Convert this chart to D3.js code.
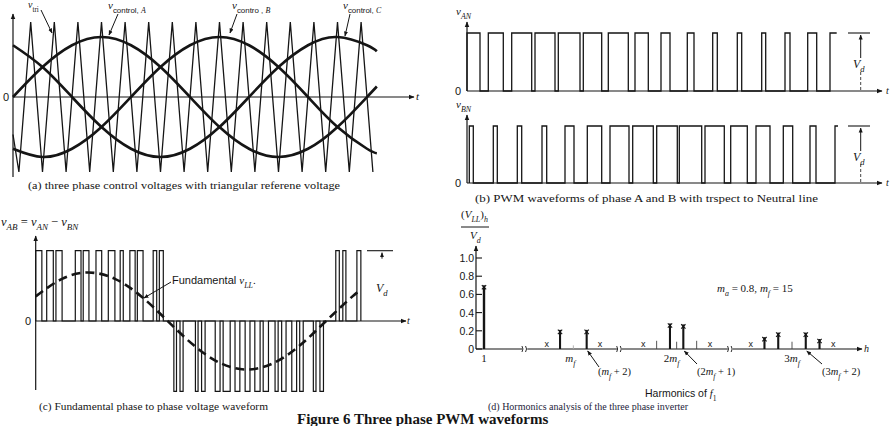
<!DOCTYPE html>
<meta charset="utf-8">
<script src="https://d3js.org/d3.v7.min.js"></script>
<style>body{margin:0;background:#fff}</style>
<div id="my_dataviz"></div>
<script>

// ---- data (time in electrical degrees of the fundamental) ----

// (a) control voltages, sampled every 30 deg (ma = 0.8)
var ctrlTimes = [0,30,60,90,120,150,180,210,240,270,300,330,360,370];
var ctrlA = [0,0.40,0.69,0.80,0.69,0.40,0,-0.40,-0.69,-0.80,-0.69,-0.40,0,0.14];
var ctrlB = [-0.69,-0.80,-0.69,-0.40,0,0.40,0.69,0.80,0.69,0.40,0,-0.40,-0.69,-0.75];
var ctrlC = [0.69,0.40,0,-0.40,-0.69,-0.80,-0.69,-0.40,0,0.40,0.69,0.80,0.69,0.61];

// triangular carrier vertices (mf = 15)
var triTimes = [0,6,18,30,42,54,66,78,90,102,114,126,138,150,162,174,186,198,210,222,234,246,258,270,282,294,306,318,330,342,354,366];
var triVals  = [-0.5,-1,1,-1,1,-1,1,-1,1,-1,1,-1,1,-1,1,-1,1,-1,1,-1,1,-1,1,-1,1,-1,1,-1,1,-1,1,-1];

// (b) on-intervals of vAN and vBN
var pulsesAN = [[0,13],[21.3,36.3],[44.7,64.7],[68,88],[91.3,113],[116.3,134.7],[141.3,161.3],[168,181.3],[194,203],[220.3,227],[245.7,250.3],[270.3,274.7],[294.7,298.7],[318,323],[340.7,349.7],[363,369.7]];
var pulsesBN = [[2.3,6.3],[26.3,30.3],[50.3,54.7],[75,79.7],[98,107],[120.3,134.7],[143,162],[165.7,186.3],[189.7,210.3],[212.3,234.7],[238,257.3],[263.7,280.3],[289,303],[316.3,325.7],[343,349],[368,371]];
var endAN = 369.7, endBN = 371;

// (c) vAB pulses (+Vd and -Vd) and fundamental vLL
var pulsesPos = [[0,7],[12.5,20],[23,30],[45,51.5],[54,60.5],[68.5,75],[82.5,90],[96,99.5],[107,113],[115.5,122],[133.5,137.5],[140.5,145],[341,345],[349,352.5],[365,369.5]];
var pulsesNeg = [[157,160],[164,167.5],[181.5,184.5],[188.5,192.5],[204,209.5],[213,221],[226.5,232],[238,243.5],[249,255],[258.5,264.5],[272,275.5],[279.5,284.5],[291,296.5],[300,304],[315.5,318.5],[323,327]];
var vllFund = [0.35,0.60,0.69,0.60,0.35,0,-0.35,-0.60,-0.69,-0.60,-0.35,0,0.35,0.44];

// (d) harmonic spectrum (VLL)h / Vd
var harmOrders = [1,13,17,29,31,41,43,47,49];
var harmValues = [0.70,0.21,0.21,0.28,0.27,0.13,0.18,0.18,0.11];
var tripOrders = [15,27,30,33,45];
var tripValues = [0.04,0.09,0.08,0.09,0.08];
var crossOrders = [11,19,25,35,39,51];
var breakOrders = [7.5,21.7,37];
var yTickValues = [0,0.2,0.4,0.6,0.8,1.0];
var yTickLabels = ["0","0.2","0.4","0.6","0.8","1.0"];

// ---- drawing ----
var svg = d3.select("#my_dataviz").append("svg")
    .attr("width", 894).attr("height", 426)
    .style("background", "#fff");

var ink = "#151515";
var serif = "Liberation Serif", sans = "Liberation Sans";

svg.append("defs").append("marker")
    .attr("id", "arr").attr("viewBox", "0 0 10 10")
    .attr("refX", 9).attr("refY", 5)
    .attr("markerWidth", 5).attr("markerHeight", 5)
    .attr("orient", "auto")
  .append("path").attr("d", "M0,1L10,5L0,9z").attr("fill", ink);

function line(x1, y1, x2, y2, w, arrow) {
  var l = svg.append("line").attr("x1", x1).attr("y1", y1).attr("x2", x2).attr("y2", y2)
      .attr("stroke", ink).attr("stroke-width", w || 1.2);
  if (arrow) l.attr("marker-end", "url(#arr)");
  return l;
}

// rich text: parts = [text, flags] flags: i italic, s subscript, n sans
function rich(x, y, parts, size, family, anchor) {
  var t = svg.append("text").attr("x", x).attr("y", y)
      .style("font-family", family || serif).style("font-size", size + "px")
      .attr("fill", ink).attr("text-anchor", anchor || "start");
  var cur = 0;
  parts.forEach(function(p) {
    var f = p[1] || "";
    var sub = f.indexOf("s") >= 0;
    var target = sub ? size * 0.35 : 0;
    var s = t.append("tspan").text(p[0]).attr("dy", target - cur);
    cur = target;
    if (sub) s.style("font-size", (size * 0.72) + "px");
    if (f.indexOf("i") >= 0) s.style("font-style", "italic");
    if (f.indexOf("n") >= 0) s.style("font-family", sans);
  });
  return t;
}

function pulsePoints(pulses, level, tEnd) {
  var pts = [];
  pulses.forEach(function(p) {
    pts.push([p[0], 0], [p[0], level], [p[1], level]);
    if (p[1] < tEnd) pts.push([p[1], 0]);
  });
  return pts;
}

// ===== (a) =====
var xa = d3.scaleLinear().domain([0, 360]).range([13, 367]);
var ya = d3.scaleLinear().domain([-1, 1]).range([172, 22]);

line(xa(0), 177, xa(0), 14, 1.2, true);
line(xa(0), ya(0), 414, ya(0), 1.2, true);
svg.append("text").attr("x", 3).attr("y", ya(0) + 4).text("0")
    .style("font-family", sans).style("font-size", "11px").attr("fill", ink);
rich(416, ya(0) + 3, [["t", "i"]], 11);

var triPts = triTimes.map(function(t, i) { return [t, triVals[i]]; });
svg.append("path").datum(triPts)
    .attr("d", d3.line().x(function(d) { return xa(d[0]); }).y(function(d) { return ya(d[1]); }))
    .attr("fill", "none").attr("stroke", ink).attr("stroke-width", 1.3);

var sineLine = d3.line().curve(d3.curveNatural)
    .x(function(d) { return xa(d[0]); }).y(function(d) { return ya(d[1]); });
[ctrlA, ctrlB, ctrlC].forEach(function(vals) {
  svg.append("path").datum(ctrlTimes.map(function(t, i) { return [t, vals[i]]; }))
      .attr("d", sineLine).attr("fill", "none").attr("stroke", ink).attr("stroke-width", 2.6);
});

rich(28, 8, [["v", "i"], ["tri", "s"]], 10);
rich(108, 9, [["v", "i"], ["control, ", "sn"], ["A", "si"]], 11);
rich(232, 9, [["v", "i"], ["contro , ", "sn"], ["B", "si"]], 11);
rich(343, 9, [["v", "i"], ["control, ", "sn"], ["C", "si"]], 11);
line(41, 10, 52, 33, 1, true);
line(118, 14, 109, 35, 1, true);
line(237, 14, 230, 33, 1, true);
line(350, 14, 345, 36, 1, true);

svg.append("text").attr("x", 28).attr("y", 189)
    .text("(a) three phase control voltages with triangular referene voltage")
    .attr("textLength", 312).attr("lengthAdjust", "spacingAndGlyphs")
    .style("font-family", serif).style("font-size", "11px").attr("fill", ink);

// ===== (b) =====
var xb = d3.scaleLinear().domain([0, 360]).range([467, 827]);
var yAN = d3.scaleLinear().domain([0, 1]).range([91, 33]);
var yBN = d3.scaleLinear().domain([0, 1]).range([183, 126]);

[[yAN, pulsesAN, endAN, 22, 15, "AN"], [yBN, pulsesBN, endBN, 115, 108, "BN"]].forEach(function(c) {
  var y = c[0];
  line(xb(0), y(0), xb(0), c[3], 1.2, true);
  line(xb(0), y(0), 882, y(0), 1.2, true);
  svg.append("text").attr("x", 455).attr("y", y(0) + 4).text("0")
      .style("font-family", sans).style("font-size", "11px").attr("fill", ink);
  rich(886, y(0) + 3, [["t", "i"]], 10);
  rich(456, c[4], [["v", "i"], [c[5], "si"]], 11);
  svg.append("path").datum(pulsePoints(c[1], 1, c[2]))
      .attr("d", d3.line().x(function(d) { return xb(d[0]); }).y(function(d) { return y(d[1]); }))
      .attr("fill", "none").attr("stroke", ink).attr("stroke-width", 1.3);
  // Vd dimension
  line(848, y(1), 870, y(1), 1.1);
  line(860.7, y(1) + 25, 860.7, y(1) + 2, 1, true);
  line(860.7, y(0) - 19, 860.7, y(0), 0.8).attr("stroke-dasharray", "3,2");
  rich(853, y(0.5) + 6, [["V", "i"], ["d", "si"]], 12);
});

svg.append("text").attr("x", 475).attr("y", 202)
    .text("(b) PWM waveforms of phase A and B with trspect to Neutral line")
    .attr("textLength", 343).attr("lengthAdjust", "spacingAndGlyphs")
    .style("font-family", serif).style("font-size", "11px").attr("fill", ink);

// ===== (c) =====
var xc = d3.scaleLinear().domain([0, 370]).range([35.7, 361.3]);
var yc = d3.scaleLinear().domain([-1, 1]).range([391.3, 250.7]);

line(xc(0), 390, xc(0), 236, 1.2, true);
line(xc(0), yc(0), 406, yc(0), 1.2, true);
svg.append("text").attr("x", 25).attr("y", yc(0) + 4).text("0")
    .style("font-family", sans).style("font-size", "11px").attr("fill", ink);
rich(407, yc(0) + 3, [["t", "i"]], 10);
rich(1, 226, [["v", "i"], ["AB", "si"], [" = "], ["v", "i"], ["AN", "si"], [" \u2212 "], ["v", "i"], ["BN", "si"]], 12.5);

var llPulses = pulsesPos.map(function(p) { return [p[0], p[1], 1]; })
    .concat(pulsesNeg.map(function(p) { return [p[0], p[1], -1]; }))
    .sort(function(a, b) { return a[0] - b[0]; });
var llPts = [];
llPulses.forEach(function(p) { llPts.push([p[0], 0], [p[0], p[2]], [p[1], p[2]], [p[1], 0]); });
svg.append("path").datum(llPts)
    .attr("d", d3.line().x(function(d) { return xc(d[0]); }).y(function(d) { return yc(d[1]); }))
    .attr("fill", "none").attr("stroke", ink).attr("stroke-width", 1.2);

svg.append("path").datum(ctrlTimes.map(function(t, i) { return [t, vllFund[i]]; }))
    .attr("d", d3.line().curve(d3.curveNatural)
        .x(function(d) { return xc(d[0]); }).y(function(d) { return yc(d[1]); }))
    .attr("fill", "none").attr("stroke", ink).attr("stroke-width", 2.6)
    .attr("stroke-dasharray", "9,5");

rich(172, 284, [["Fundamental ", "n"], ["v", "i"], ["LL", "si"], ["."]], 11);
line(171, 282, 144, 298, 1, true);
line(367, yc(1), 393, yc(1), 1.1);
line(382, yc(1) + 8, 382, yc(1) + 2, 1, true);
rich(376, 292, [["V", "i"], ["d", "si"]], 12);

svg.append("text").attr("x", 39).attr("y", 410)
    .text("(c) Fundamental phase to phase voltage waveform")
    .attr("textLength", 229).attr("lengthAdjust", "spacingAndGlyphs")
    .style("font-family", serif).style("font-size", "10.5px").attr("fill", ink);

// ===== (d) =====
var xd = d3.scaleLinear().domain([1, 11, 19, 25, 35, 39, 51])
    .range([484, 546.7, 600, 643.3, 710, 750.7, 833.3]);
var yd = d3.scaleLinear().domain([0, 1]).range([349, 258]);

line(476, yd(0), 476, 246, 1.2, true);
line(476, yd(0), 862, yd(0), 1.2, true);
rich(864, yd(0) + 3, [["h", "i"]], 10);
yTickValues.forEach(function(v, i) {
  line(476, yd(v), 482, yd(v), 1.1);
  svg.append("text").attr("x", 474).attr("y", yd(v) + 4).attr("text-anchor", "end")
      .text(yTickLabels[i]).style("font-family", sans).style("font-size", "10.5px").attr("fill", ink);
});
// axis breaks
breakOrders.forEach(function(h) {
  var x = xd(h);
  svg.append("rect").attr("x", x - 2.5).attr("y", yd(0) - 2).attr("width", 5).attr("height", 4).attr("fill", "#fff");
  [-1.8, 1.8].forEach(function(o) {
    svg.append("path").attr("d", "M" + (x + o - 1) + "," + (yd(0) + 3) + " q2,-3 0,-6")
        .attr("fill", "none").attr("stroke", ink).attr("stroke-width", 0.9);
  });
});

// triplen remnants (thin)
tripOrders.forEach(function(h, i) {
  line(xd(h), yd(0), xd(h), yd(tripValues[i]), 0.9).attr("stroke", h === 15 ? "#aaa" : "#444");
});
// main harmonics
harmOrders.forEach(function(h, i) {
  line(xd(h), yd(0), xd(h), yd(harmValues[i]), h === 1 ? 2.4 : 2.1);
  svg.append("path").attr("d", d3.symbol().type(d3.symbolTimes).size(14)())
      .attr("transform", "translate(" + xd(h) + "," + (yd(harmValues[i]) + 2) + ")")
      .attr("fill", "none").attr("stroke", ink).attr("stroke-width", 1.1);
});
crossOrders.forEach(function(h) {
  svg.append("text").attr("x", xd(h)).attr("y", yd(0) - 2).attr("text-anchor", "middle").text("x")
      .style("font-family", sans).style("font-size", "9px").attr("fill", ink);
});

rich(xd(1), 362, [["1"]], 11, serif, "middle");
rich(xd(15) - 3, 362, [["m", "i"], ["f", "si"]], 11, serif, "middle");
rich(xd(30) - 5, 362, [["2"], ["m", "i"], ["f", "si"]], 11, serif, "middle");
rich(xd(45), 362, [["3"], ["m", "i"], ["f", "si"]], 11, serif, "middle");
rich(598, 375, [["(", ""], ["m", "i"], ["f", "si"], [" + 2)"]], 10.5);
rich(697, 375, [["(2"], ["m", "i"], ["f", "si"], [" + 1)"]], 10.5);
rich(822, 375, [["(3"], ["m", "i"], ["f", "si"], [" + 2)"]], 10.5);
line(599, 367, xd(17) + 1, yd(0) + 2, 1, true);
line(697, 364, xd(31) + 1, yd(0) + 2, 1, true);
line(822, 364, xd(47) + 1, yd(0) + 2, 1, true);

rich(717, 292, [["m", "i"], ["a", "si"], [" = 0.8, "], ["m", "i"], ["f", "si"], [" = 15"]], 11);

rich(461, 218, [["("], ["V", "i"], ["LL", "si"], [")"], ["h", "si"]], 11);
line(461, 227, 489, 227, 1);
rich(470, 239, [["V", "i"], ["d", "si"]], 11);

rich(645, 397, [["Harmonics of ", "n"], ["f", "i"], ["1", "s"]], 10.5);
svg.append("text").attr("x", 488).attr("y", 410)
    .text("(d) Hormonics analysis of the three phase inverter")
    .attr("textLength", 200).attr("lengthAdjust", "spacingAndGlyphs")
    .style("font-family", serif).style("font-size", "10.5px").attr("fill", "#1c1c3a");

// figure title at the bottom edge
svg.append("text").attr("x", 297).attr("y", 424)
    .text("Figure 6 Three phase PWM waveforms")
    .style("font-family", serif).style("font-weight", "bold").style("font-size", "15px").attr("fill", ink);

</script>
